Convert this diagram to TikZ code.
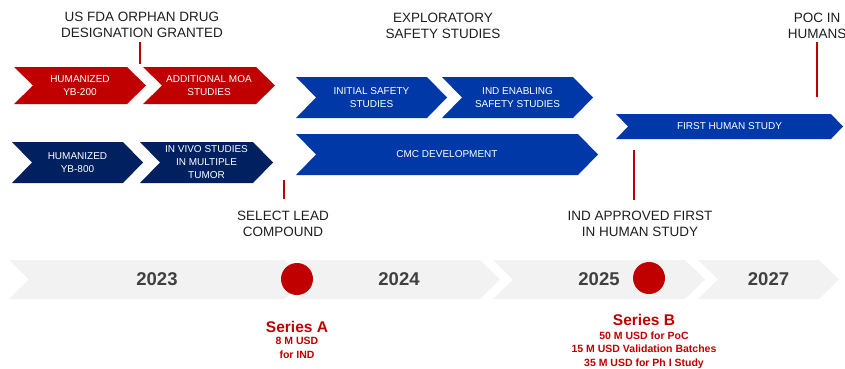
\documentclass[tikz,border=0pt]{standalone}
\usepackage{fontspec}
\setmainfont{Liberation Sans}
\usepackage{tikz}
\usetikzlibrary{positioning}

\definecolor{fundred}{RGB}{192,0,0}
\definecolor{navyblue}{RGB}{0,32,96}
\definecolor{royal}{RGB}{0,56,168}
\definecolor{lightgrey}{RGB}{242,242,242}
\definecolor{yeargrey}{RGB}{64,64,64}
\definecolor{headgrey}{RGB}{30,30,30}

% name, fill, text style, left, tip, top, bottom, depth, text
\newcommand{\chevron}[9]{%
  \fill [#2] (#4,#6) -- (#5-#8,#6) -- (#5,{(#6+#7)/2}) -- (#5-#8,#7) -- (#4,#7) -- (#4+#8,{(#6+#7)/2}) -- cycle;
  \node [#3] (#1) at ({(#4+#5)/2},{(#6+#7)/2}) {#9};
}

\begin{document}
\begin{tikzpicture}[
    x=1pt, y=-1pt,
    chevtext/.style={
		text=white,
		align=center,
		inner sep=0pt,
		font=\fontsize{10}{13}\selectfont
	},
    yeartext/.style={
		text=yeargrey,
		inner sep=0pt,
		font=\fontsize{18.5}{20}\selectfont\bfseries
	},
    milestone/.style={
		text=headgrey,
		align=center,
		inner sep=0pt,
		font=\fontsize{13.5}{16}\selectfont
	},
    redtick/.style={
		draw=fundred,
		line width=2pt
	},
    reddot/.style={
		circle,
		fill=fundred,
		minimum size=32pt,
		inner sep=0pt
	},
    series/.style={
		text=fundred,
		inner sep=0pt,
		font=\fontsize{15.5}{18}\selectfont\bfseries
	},
    funding/.style={
		text=fundred,
		align=center,
		inner sep=0pt,
		font=\fontsize{10.5}{13.2}\selectfont\bfseries
	}
  ]
  \useasboundingbox (0,0) rectangle (845,368);

  % the years at the bottom
  \chevron{y2023}{lightgrey}{yeartext}{9}{305}{260}{299}{20}{2023}
  \chevron{y2024}{lightgrey}{yeartext}{298}{500}{260}{299}{20}{2024}
  \chevron{y2025}{lightgrey}{yeartext}{493}{705}{260}{299}{20}{2025}
  \chevron{y2027}{lightgrey}{yeartext}{698}{839}{260}{299}{20}{2027}

  % then the work blocks
  \chevron{yb200}{fundred}{chevtext}{14}{146}{67}{104}{19}{HUMANIZED\\YB-200}
  \chevron{moa}{fundred}{chevtext}{143}{275}{67}{104}{19}{ADDITIONAL MOA\\STUDIES}
  \chevron{yb800}{navyblue}{chevtext}{12}{143}{142}{183}{20}{HUMANIZED\\YB-800}
  \chevron{invivo}{navyblue}{chevtext}{140}{273}{142}{183}{20}{IN VIVO STUDIES\\IN MULTIPLE\\TUMOR}
  \chevron{initsafety}{royal}{chevtext}{296}{447}{77}{118}{20}{INITIAL SAFETY\\STUDIES}
  \chevron{indsafety}{royal}{chevtext}{442}{593}{77}{118}{20}{IND ENABLING\\SAFETY STUDIES}
  \chevron{cmc}{royal}{chevtext}{296}{598}{134}{175}{20}{CMC DEVELOPMENT}
  \chevron{fih}{royal}{chevtext}{616}{843}{114}{139}{12}{FIRST HUMAN STUDY}

  % milestones
  \node [milestone] (fda) at (142,25) {US FDA ORPHAN DRUG\\DESIGNATION GRANTED};
  \node [milestone] (explo) at (443,25.5) {EXPLORATORY\\SAFETY STUDIES};
  \node [milestone] (poc) at (817,25.5) {POC IN\\HUMANS};
  \node [milestone] (lead) at (283,223.5) {SELECT LEAD\\COMPOUND};
  \node [milestone] (indok) at (640,223.5) {IND APPROVED FIRST\\IN HUMAN STUDY};

  \coordinate (fdaend) at (140,64);
  \coordinate (pocend) at (817,97);
  \coordinate (leadtop) at (284,180);
  \coordinate (indtop) at (634,150);

  \draw [redtick, shorten <=4pt] (fda.south -| fdaend) -- (fdaend);
  \draw [redtick, shorten <=4pt] (poc.south -| pocend) -- (pocend);
  \draw [redtick, shorten >=12pt] (leadtop) -- (leadtop |- lead.north);
  \draw [redtick, shorten >=11pt] (indtop) -- (indtop |- indok.north);

  % funding rounds
  \node [reddot] (seriesadot) at (297,279) {};
  \node [reddot] (seriesbdot) at (649,278) {};

  \node [series] (seriesa) at (297,327) {Series A};
  \node [funding, below=4.5pt of seriesa] (seriesainfo) {8 M USD\\for IND};
  \node [series] (seriesb) at (644,320) {Series B};
  \node [funding, below=6pt of seriesb] (seriesbinfo) {50 M USD for PoC\\15 M USD Validation Batches\\35 M USD for Ph I Study};

\end{tikzpicture}
\end{document}
